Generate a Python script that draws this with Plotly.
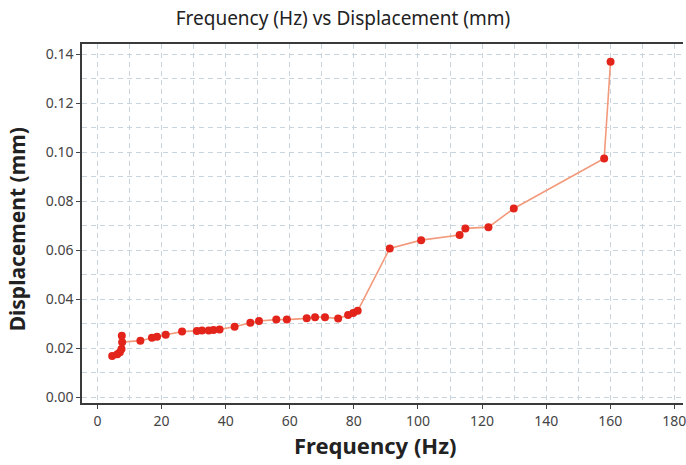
import plotly.graph_objects as go

frequency_hz = [4.6, 6.2, 7.0, 7.5, 7.6, 7.7, 13.4, 17.0, 18.6, 21.3, 26.4, 31.0, 32.6,
                34.7, 36.2, 38.1, 42.8, 47.7, 50.4, 55.8, 59.1, 65.3, 67.9, 71.0, 75.1,
                78.2, 79.8, 81.2, 91.2, 101.0, 113.0, 114.8, 122.0, 129.9, 158.1, 160.1]
displacement_mm = [0.0169, 0.0176, 0.0184, 0.0197, 0.0251, 0.0225, 0.0231, 0.0243, 0.0247,
                   0.0255, 0.0268, 0.0270, 0.0273, 0.0273, 0.0275, 0.0277, 0.0288, 0.0304,
                   0.0311, 0.0317, 0.0317, 0.0322, 0.0327, 0.0327, 0.0321, 0.0336, 0.0344,
                   0.0353, 0.0607, 0.0641, 0.0662, 0.0689, 0.0694, 0.0770, 0.0974, 0.1369]

x_ticks = [0, 20, 40, 60, 80, 100, 120, 140, 160, 180]
y_ticks = [0.00, 0.02, 0.04, 0.06, 0.08, 0.10, 0.12, 0.14]

FONT = "Noto Sans"
GRID = "#c9d5de"
W, H = 686, 465
ML, MR, MT, MB = 82, 0, 44, 62

fig = go.Figure()
fig.add_trace(go.Scatter(
    x=frequency_hz, y=displacement_mm, mode="lines+markers",
    line=dict(color="#f49a7c", width=1.6),
    marker=dict(color="#e2241b", size=8),
    showlegend=False,
))

fig.update_layout(
    width=W, height=H,
    margin=dict(l=ML, r=MR, t=MT, b=MB),
    paper_bgcolor="white", plot_bgcolor="white",
    title=dict(text="Frequency (Hz) vs Displacement (mm)", x=0.5, xanchor="center",
               y=1 - 18 / H, yanchor="middle",
               font=dict(family=FONT, size=19, color="#222222")),
    font=dict(family=FONT, color="#333333"),
)

# axis titles placed as paper annotations
plot_w = W - ML - MR
plot_h = H - MT - MB
fig.add_annotation(text="<b>Frequency (Hz)</b>", xref="paper", yref="paper",
                   x=(376 - ML) / plot_w, y=-(445 - (H - MB)) / plot_h,
                   xanchor="center", yanchor="middle", showarrow=False,
                   font=dict(family=FONT, size=22, color="#222222"))
fig.add_annotation(text="<b>Displacement (mm)</b>", xref="paper", yref="paper",
                   x=-(ML - 17) / plot_w, y=((H - MB) - 229) / plot_h, textangle=-90,
                   xanchor="center", yanchor="middle", showarrow=False,
                   font=dict(family=FONT, size=21, color="#222222"))

fig.update_xaxes(
    range=[-4.82, 182.7], tickvals=x_ticks, ticktext=[str(v) for v in x_ticks],
    ticks="outside", ticklen=4, tickcolor="#444444", ticklabeloverflow="allow",
    tickfont=dict(family=FONT, size=14, color="#444444"),
    showline=True, linecolor="#3a3a3a", linewidth=1.5, mirror=True,
    showgrid=True, gridcolor=GRID, griddash="5px,4px", gridwidth=1,
    minor=dict(dtick=10, tick0=0, showgrid=True, gridcolor=GRID, griddash="5px,4px", gridwidth=1),
    zeroline=False,
)
fig.update_yaxes(
    range=[-0.00232, 0.1441], tickvals=y_ticks, ticktext=[f"{v:.2f}" for v in y_ticks],
    ticks="outside", ticklen=4, tickcolor="#444444",
    tickfont=dict(family=FONT, size=14, color="#444444"),
    showline=True, linecolor="#3a3a3a", linewidth=1.5, mirror=False,
    showgrid=True, gridcolor=GRID, griddash="5px,4px", gridwidth=1,
    minor=dict(dtick=0.01, tick0=0, showgrid=True, gridcolor=GRID, griddash="5px,4px", gridwidth=1),
    zeroline=False,
)

fig.write_html("out.html")
